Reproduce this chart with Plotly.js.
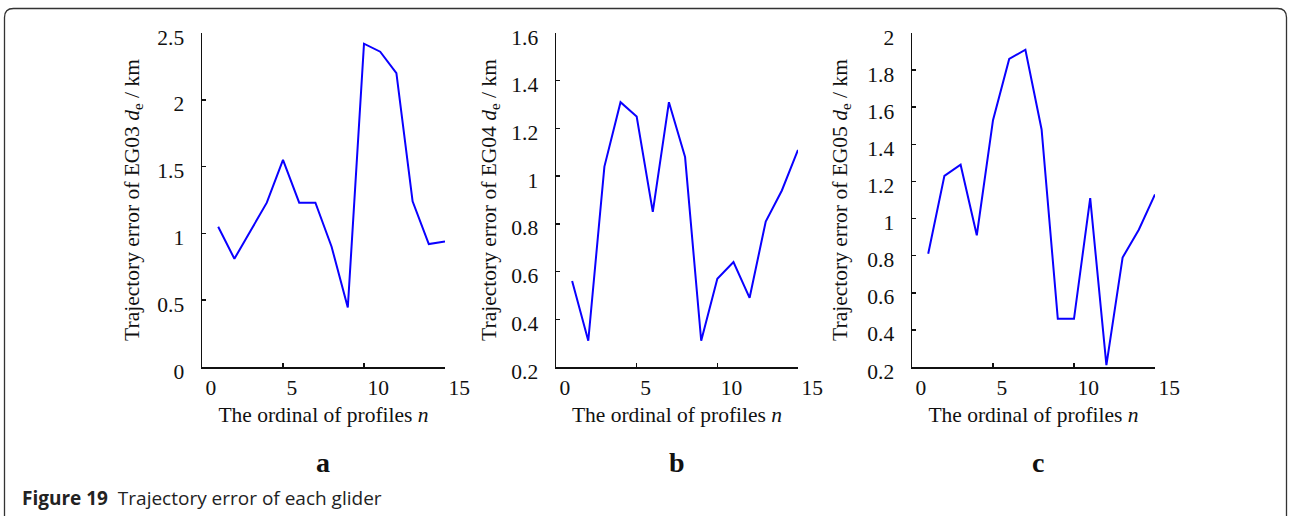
<!DOCTYPE html>
<html><head><meta charset="utf-8">
<script src="https://cdn.plot.ly/plotly-3.0.1.min.js"></script>
<style>html,body{margin:0;padding:0;background:#fff}#chart{width:1290px;height:516px}</style>
</head><body><div id="chart"></div>
<script>
// ---- data ----
const profiles = [1, 2, 3, 4, 5, 6, 7, 8, 9, 10, 11, 12, 13, 14, 15];
const eg03 = [1.05, 0.81, 1.02, 1.23, 1.55, 1.23, 1.23, 0.90, 0.445, 2.42, 2.36, 2.20, 1.24, 0.92, 0.94];
const eg04 = [0.56, 0.31, 1.04, 1.31, 1.25, 0.85, 1.31, 1.08, 0.31, 0.57, 0.64, 0.49, 0.81, 0.94, 1.11];
const eg05 = [0.81, 1.23, 1.29, 0.91, 1.53, 1.86, 1.91, 1.48, 0.46, 0.46, 1.11, 0.21, 0.79, 0.94, 1.13];
const xTickVals = [0, 5, 10, 15];
const panelLetters = ['a', 'b', 'c'];
const gliderNames = ['EG03', 'EG04', 'EG05'];
const xTitleText = 'The ordinal of profiles <i>n</i>';
const captionLabel = 'Figure 19';
const captionText = 'Trajectory error of each glider';

// ---- layout helpers ----
const W = 1290, H = 516;
const px = x => x / W;
const py = y => 1 - y / H;

const serif = 'Liberation Serif, Times New Roman, serif';
const lineBlue = '#0A00FF';
const FS = 21.5;

const panels = [
  {series: eg03, x0: 202, x1: 445, yr: [0, 2.5], dt: 0.5, letterX: 323, tstand: 12},
  {series: eg04, x0: 556, x1: 798, yr: [0.2, 1.6], dt: 0.2, letterX: 677, tstand: 9},
  {series: eg05, x0: 912, x1: 1155, yr: [0.2, 2.0], dt: 0.2, letterX: 1038, tstand: 14}
];

const traces = [];
const layout = {
  width: W, height: H,
  margin: {l: 0, r: 0, t: 0, b: 0},
  paper_bgcolor: '#fff', plot_bgcolor: '#fff',
  showlegend: false,
  annotations: [],
  shapes: []
};

panels.forEach((p, i) => {
  const n = i === 0 ? '' : String(i + 1);
  traces.push({
    x: profiles, y: p.series, type: 'scatter', mode: 'lines',
    xaxis: 'x' + n, yaxis: 'y' + n,
    line: {color: lineBlue, width: 2},
    hoverinfo: 'x+y'
  });
  const common = {
    showline: true, linecolor: '#111', linewidth: 1.5,
    ticks: 'inside', ticklen: 4, tickwidth: 1.5, tickcolor: '#111',
    showgrid: false, zeroline: false,
    tickfont: {family: serif, size: FS, color: '#111'}
  };
  layout['xaxis' + n] = Object.assign({}, common, {
    domain: [px(p.x0), px(p.x1)], anchor: 'y' + n,
    range: [0, 15], tickvals: xTickVals,
    ticklabelposition: 'outside right',
    ticklabelshift: 2, ticklabelstandoff: 1,
    title: {text: xTitleText, font: {family: serif, size: FS, color: '#111'}, standoff: 7}
  });
  layout['yaxis' + n] = Object.assign({}, common, {
    domain: [py(367), py(33)], anchor: 'x' + n,
    range: p.yr, dtick: p.dt, tick0: p.yr[0],
    ticklabelshift: 4, ticklabelstandoff: 12,
    title: {text: 'Trajectory error of ' + gliderNames[i] + ' <i>d</i><sub>e</sub> / km',
            font: {family: serif, size: FS, color: '#111'}, standoff: p.tstand}
  });
  layout.annotations.push({
    xref: 'paper', yref: 'paper', x: px(p.letterX), y: py(462),
    xanchor: 'center', yanchor: 'middle', showarrow: false,
    text: '<b>' + panelLetters[i] + '</b>',
    font: {family: serif, size: 28, color: '#111'}
  });
});

// caption
layout.annotations.push({
  xref: 'paper', yref: 'paper', x: px(20), y: py(498),
  xanchor: 'left', yanchor: 'middle', showarrow: false,
  text: '<b>' + captionLabel + '</b>  ' + captionText,
  font: {family: 'Open Sans, sans-serif', size: 19, color: '#222'}
});

// rounded frame (open at bottom)
const L = 4.5, R = 1286.5, T = 8.5, B = 530, r = 9;
const path = [
  'M', px(L), py(B),
  'L', px(L), py(T + r),
  'Q', px(L), py(T), px(L + r), py(T),
  'L', px(R - r), py(T),
  'Q', px(R), py(T), px(R), py(T + r),
  'L', px(R), py(B)
].join(' ');
layout.shapes.push({
  type: 'path', xref: 'paper', yref: 'paper', path: path,
  line: {color: '#333', width: 1.3}
});

Plotly.newPlot('chart', traces, layout, {displayModeBar: false, staticPlot: true});
</script></body></html>
